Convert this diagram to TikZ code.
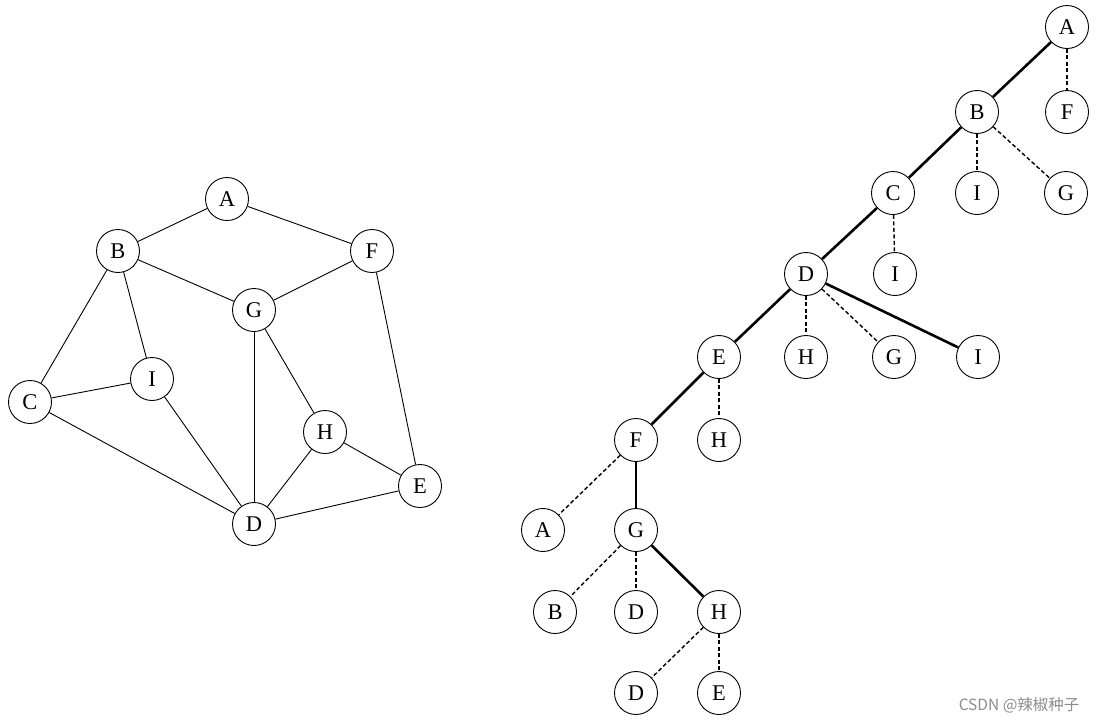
\documentclass[tikz,border=0pt]{standalone}
\usepackage{fontspec}
\setmainfont{Liberation Serif}
\newfontfamily\wmfont{Noto Sans CJK SC}
\begin{document}
\begin{tikzpicture}[x=1pt,y=-1pt,
  vtx/.style={circle,draw,line width=0.9pt,minimum size=43pt,inner sep=0pt,font=\fontsize{22.5}{26}\selectfont,fill=white},
  edge/.style={line width=0.9pt},
  tree/.style={line width=2.6pt},
  back/.style={line width=1.4pt,dash pattern=on 4pt off 2.5pt}]
\useasboundingbox (0,0) rectangle (1096,724);
% left graph
\node[vtx] (A) at (227,199) {A};
\node[vtx] (B) at (118,251) {B};
\node[vtx] (F) at (372,251) {F};
\node[vtx] (G) at (254,310) {G};
\node[vtx] (I) at (152,379) {I};
\node[vtx] (C) at (30,402) {C};
\node[vtx] (H) at (325,432) {H};
\node[vtx] (E) at (420,486) {E};
\node[vtx] (D) at (254,524) {D};
\foreach \a/\b in {A/B,A/F,B/G,B/C,B/I,F/G,F/E,G/D,G/H,I/C,I/D,C/D,H/D,H/E,D/E}
  \draw[edge] (\a) -- (\b);
% right tree
\node[vtx] (tA) at (1067,27) {A};
\node[vtx] (tF1) at (1067,112) {F};
\node[vtx] (tB) at (977,112) {B};
\node[vtx] (tI1) at (977,193) {I};
\node[vtx] (tG1) at (1066,193) {G};
\node[vtx] (tC) at (893,193) {C};
\node[vtx] (tI2) at (895,274) {I};
\node[vtx] (tD) at (806,274) {D};
\node[vtx] (tH1) at (806,357) {H};
\node[vtx] (tG2) at (894,357) {G};
\node[vtx] (tI3) at (978,357) {I};
\node[vtx] (tE) at (719,357) {E};
\node[vtx] (tH2) at (719,440) {H};
\node[vtx] (tF) at (636,440) {F};
\node[vtx] (tA2) at (543,530) {A};
\node[vtx] (tG) at (636,530) {G};
\node[vtx] (tB2) at (555,612) {B};
\node[vtx] (tD2) at (636,612) {D};
\node[vtx] (tH) at (719,612) {H};
\node[vtx] (tD3) at (636,693) {D};
\node[vtx] (tE2) at (719,693) {E};
\foreach \a/\b in {tA/tB,tB/tC,tC/tD,tD/tI3,tD/tE,tE/tF,tF/tG,tG/tH}
  \draw[tree] (\a) -- (\b);
\foreach \a/\b in {tA/tF1,tB/tI1,tB/tG1,tC/tI2,tD/tH1,tD/tG2,tE/tH2,tF/tA2,tG/tB2,tG/tD2,tH/tD3,tH/tE2}
  \draw[back] (\a) -- (\b);
\node[font=\wmfont\fontsize{15.5}{18}\selectfont,text=black!45,anchor=east] (wm) at (1083,705) {CSDN @辣椒种子};
\end{tikzpicture}
\end{document}
